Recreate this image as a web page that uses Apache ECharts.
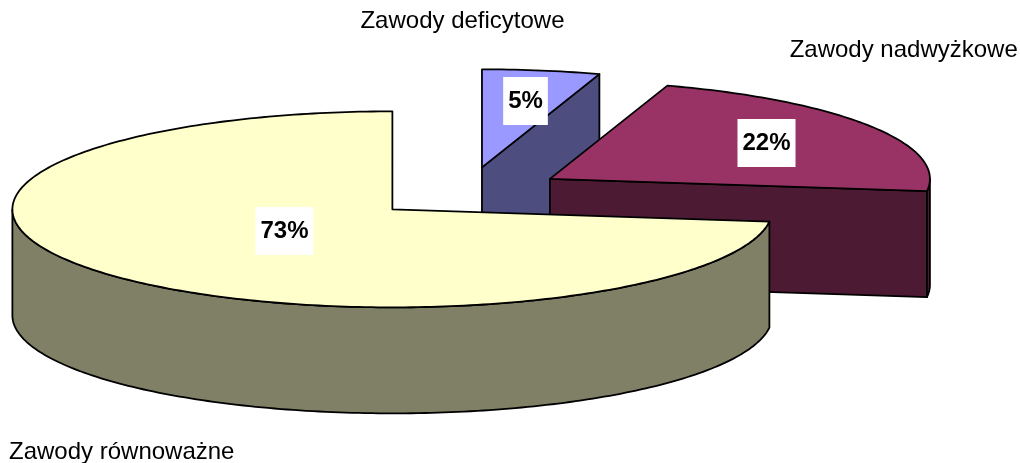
<!DOCTYPE html>
<html><head><meta charset="utf-8">
<script src="https://cdn.jsdelivr.net/npm/echarts@6/dist/echarts.min.js"></script>
<style>html,body{margin:0;padding:0;background:#fff}#c{width:1020px;height:463px}</style>
</head><body><div id="c"></div>
<script>
// ---- data ----
const categories = ['Zawody deficytowe', 'Zawody nadwyżkowe', 'Zawody równoważne'];
const values = [5, 22, 73];
const percentLabels = ['5%', '22%', '73%'];

// ---- styling / layout ----
const topColors = ['#9999FF', '#993366', '#FFFFCC'];
const sideColors = ['#4D4D80', '#4D1A33', '#808066'];
const CX = 466.5, CY = 192.5, RX = 380, RY = 98, DEPTH = 106, EXPLODE = 0.26;
const pctPos = [[525.5, 101], [766.5, 143], [284.5, 231]];
const namePos = [[462.5, 21, 'center'], [903.7, 50, 'center'], [9, 452, 'left']];
const FONT = "'Liberation Sans', Arial, sans-serif";

const total = values.reduce((a, b) => a + b, 0);
const starts = [];
{ let acc = 0; values.forEach(v => { starts.push(acc / total * 360); acc += v; }); }

function pt(cx, cy, a, dy) {
  const r = a * Math.PI / 180;
  return [cx + RX * Math.sin(r), cy - RY * Math.cos(r) + (dy || 0)];
}
function arc(cx, cy, a0, a1, dy) {
  const pts = [];
  const n = Math.max(2, Math.ceil(Math.abs(a1 - a0)));
  for (let k = 0; k <= n; k++) pts.push(pt(cx, cy, a0 + (a1 - a0) * k / n, dy));
  return pts;
}

function renderItem(params, api) {
  const i = params.dataIndex;
  const v = api.value(0);
  const a0 = starts[i];
  const a1 = a0 + v / total * 360;
  const m = (a0 + a1) / 2 * Math.PI / 180;
  const cx = CX + EXPLODE * RX * Math.sin(m);
  const cy = CY - EXPLODE * RY * Math.cos(m);
  const base = i * 10;
  const line = { stroke: '#000', lineWidth: 1.8, lineJoin: 'round' };
  const children = [];
  const sideStyle = Object.assign({ fill: sideColors[i] }, line);

  // start cut face
  if (Math.sin(a0 * Math.PI / 180) < -1e-6) {
    const e = pt(cx, cy, a0);
    children.push({ type: 'polygon', z2: base + 1,
      shape: { points: [[cx, cy], e, [e[0], e[1] + DEPTH], [cx, cy + DEPTH]] }, style: sideStyle });
  }
  // end cut face
  if (Math.sin(a1 * Math.PI / 180) > 1e-6) {
    const e = pt(cx, cy, a1);
    children.push({ type: 'polygon', z2: base + 1,
      shape: { points: [[cx, cy], e, [e[0], e[1] + DEPTH], [cx, cy + DEPTH]] }, style: sideStyle });
  }
  // outer wall (front-facing part)
  const s = Math.max(a0, 90), t = Math.min(a1, 270);
  if (t > s) {
    const topArc = arc(cx, cy, s, t, 0);
    const botArc = arc(cx, cy, t, s, DEPTH);
    children.push({ type: 'polygon', z2: base + 2,
      shape: { points: topArc.concat(botArc) }, style: sideStyle });
  }
  // top face
  children.push({ type: 'polygon', z2: base + 3,
    shape: { points: [[cx, cy]].concat(arc(cx, cy, a0, a1, 0)) },
    style: Object.assign({ fill: topColors[i] }, line) });

  // percent label
  children.push({ type: 'text', z2: 100, x: pctPos[i][0], y: pctPos[i][1],
    style: { text: percentLabels[i], fill: '#000', font: 'bold 24px ' + FONT,
      align: 'center', verticalAlign: 'middle', backgroundColor: '#fff',
      lineHeight: 24, padding: [12, 5, 12, 5] } });
  // category label
  children.push({ type: 'text', z2: 100, x: namePos[i][0], y: namePos[i][1],
    style: { text: categories[i], fill: '#000', font: '24px ' + FONT,
      align: namePos[i][2], verticalAlign: 'middle' } });

  return { type: 'group', children };
}

const chart = echarts.init(document.getElementById('c'), null, { renderer: 'canvas' });
chart.setOption({
  animation: false,
  backgroundColor: '#fff',
  series: [{
    type: 'custom',
    coordinateSystem: 'none',
    renderItem,
    data: values.map((v, i) => ({ name: categories[i], value: [v] }))
  }]
});
</script></body></html>
